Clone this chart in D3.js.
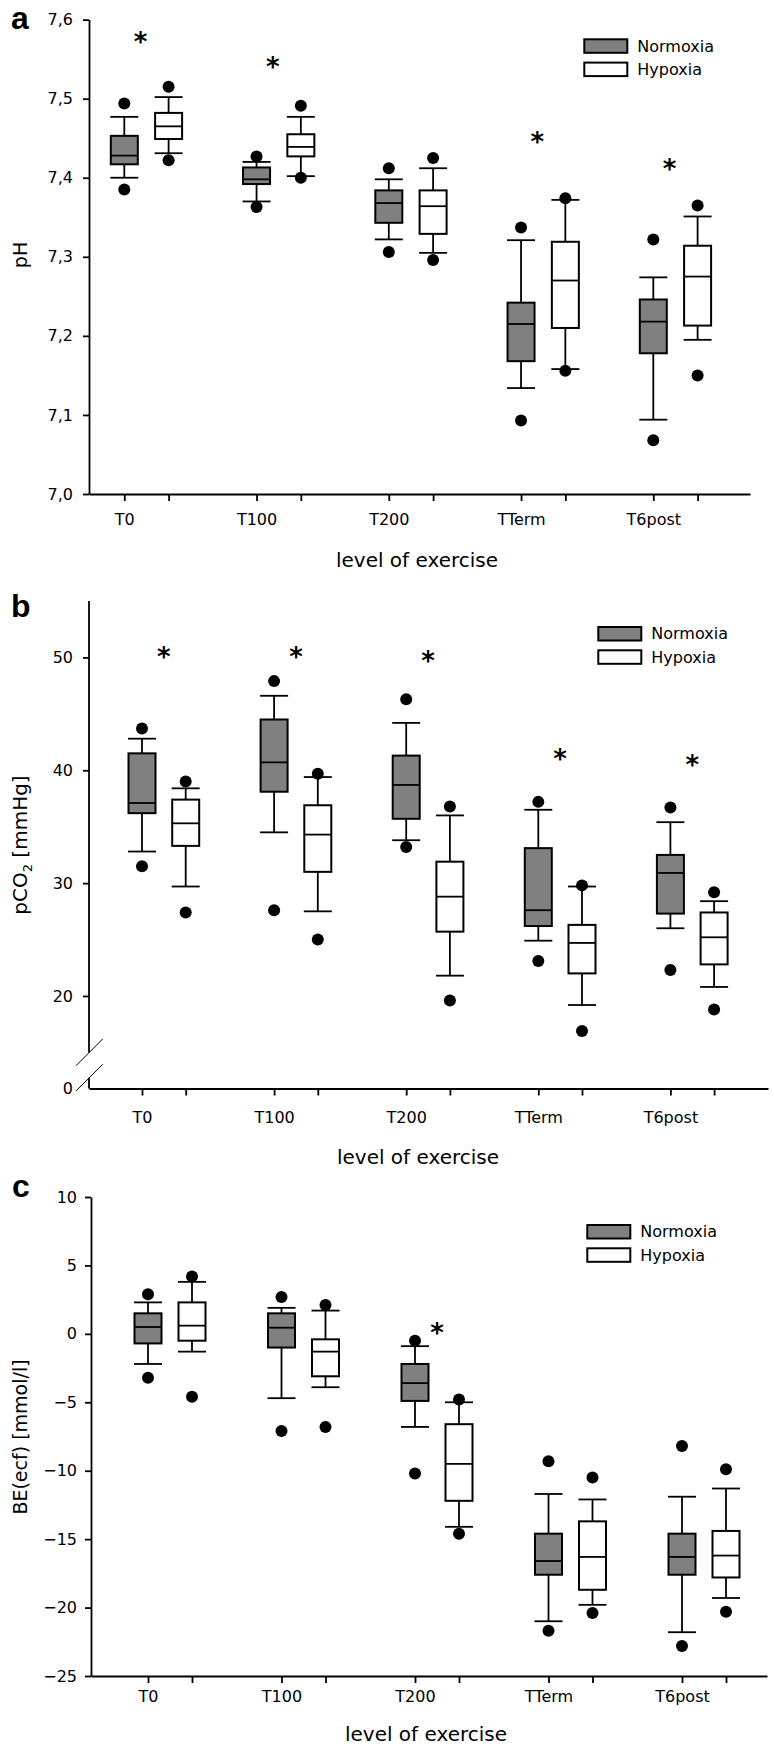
<!DOCTYPE html>
<html><head><meta charset="utf-8">
<script src="https://cdn.jsdelivr.net/npm/d3@7"></script>
<style>
html,body{margin:0;padding:0;background:#fff;}
svg text{font-family:"DejaVu Sans",sans-serif;fill:#000;}
</style></head><body>
<svg id="chart" width="774" height="1756"></svg>
<script>
const categories = ["T0","T100","T200","TTerm","T6post"];
const groups = ["Normoxia","Hypoxia"];
// each row: [outlierLow, whiskerLow, q1, median, q3, whiskerHigh, outlierHigh]
const phNormoxia = [
  [7.385, 7.400, 7.417, 7.428, 7.453, 7.477, 7.494],
  [7.363, 7.370, 7.392, 7.398, 7.413, 7.420, 7.427],
  [7.306, 7.322, 7.343, 7.368, 7.384, 7.398, 7.412],
  [7.093, 7.134, 7.168, 7.215, 7.242, 7.321, 7.337],
  [7.068, 7.094, 7.178, 7.218, 7.246, 7.274, 7.322]
];
const phHypoxia = [
  [7.422, 7.431, 7.449, 7.465, 7.482, 7.502, 7.515],
  [7.400, 7.402, 7.427, 7.439, 7.455, 7.477, 7.491],
  [7.296, 7.305, 7.329, 7.364, 7.384, 7.412, 7.425],
  [7.156, 7.158, 7.210, 7.270, 7.319, 7.372, 7.374],
  [7.150, 7.195, 7.213, 7.275, 7.314, 7.351, 7.365]
];
const phAsterisks = [7.577, 7.546, null, 7.451, 7.417];
const phTicks = [7.0, 7.1, 7.2, 7.3, 7.4, 7.5, 7.6];

const pco2Normoxia = [
  [31.5, 32.8, 36.2, 37.1, 41.5, 42.8, 43.7],
  [27.6, 34.5, 38.1, 40.7, 44.5, 46.6, 47.9],
  [33.2, 33.8, 35.7, 38.7, 41.3, 44.2, 46.3],
  [23.1, 24.9, 26.2, 27.6, 33.1, 36.5, 37.2],
  [22.3, 26.0, 27.3, 30.9, 32.5, 35.4, 36.7]
];
const pco2Hypoxia = [
  [27.4, 29.7, 33.3, 35.3, 37.4, 38.4, 39.0],
  [25.0, 27.5, 31.0, 34.3, 36.9, 39.4, 39.7],
  [19.6, 21.8, 25.7, 28.8, 31.9, 36.0, 36.8],
  [16.9, 19.2, 22.0, 24.7, 26.3, 29.7, 29.8],
  [18.8, 20.8, 22.8, 25.2, 27.4, 28.4, 29.2]
];
const pco2Asterisks = [50.4, 50.4, 50.1, 41.4, 40.9];
const pco2Ticks = [0, 20, 30, 40, 50];

const beNormoxia = [
  [-3.2, -2.2, -0.7, 0.5, 1.5, 2.3, 2.9],
  [-7.1, -4.7, -1.0, 0.45, 1.5, 1.9, 2.7],
  [-10.2, -6.8, -4.9, -3.6, -2.2, -0.9, -0.5],
  [-21.7, -21.0, -17.6, -16.6, -14.6, -11.7, -9.3],
  [-22.8, -21.8, -17.6, -16.3, -14.6, -11.9, -8.2]
];
const beHypoxia = [
  [-4.6, -1.3, -0.5, 0.6, 2.3, 3.8, 4.2],
  [-6.8, -3.9, -3.1, -1.3, -0.4, 1.7, 2.1],
  [-14.6, -14.1, -12.2, -9.5, -6.6, -5.0, -4.8],
  [-20.4, -19.8, -18.7, -16.3, -13.7, -12.1, -10.5],
  [-20.3, -19.3, -17.8, -16.2, -14.4, -11.3, -9.9]
];
const beAsterisks = [null, null, 0.4, null, null];
const beTicks = [10, 5, 0, -5, -10, -15, -20, -25];

const xTitle = "level of exercise";

const commaFmt = d3.formatLocale({decimal: ",", thousands: ".", grouping: [3], currency: ["", ""]}).format(".1f");

const svg = d3.select("#chart");
const fills = {Normoxia: "#808080", Hypoxia: "#ffffff"};

const panels = [
  {letter: "a", letterX: 11, letterY: 29,
   norm: phNormoxia, hyp: phHypoxia, ast: phAsterisks, astShift: -6,
   yDomain: [7.0, 7.6], yRange: [494, 19.6], ticks: phTicks, fmt: commaFmt,
   yAxisX: 89, x1: 750, c0: 124.3, step: 132.25, off: 44.3,
   tickPad: 12.6, yPad: 10, titleX: 417, titleY: 566.7,
   yTitle: ["pH"], yTitleSize: 19, yTitleY: 255,
   legX: 584.3, legY: 39.3},
  {letter: "b", letterX: 11, letterY: 617,
   norm: pco2Normoxia, hyp: pco2Hypoxia, ast: pco2Asterisks, astShift: 0,
   yDomain: [0, 15, 55], yRange: [1088.5, 1052.4, 601], ticks: pco2Ticks, fmt: d3.format("d"),
   breakAt: [4.5, 15],
   yAxisX: 89, x1: 768, c0: 142, step: 132.1, off: 43.7,
   tickPad: 16, yPad: 10, titleX: 418, titleY: 1164,
   yTitle: ["pCO", "2", " [mmHg]"], yTitleSize: 20, yTitleY: 845,
   legX: 598.3, legY: 627},
  {letter: "c", letterX: 12, letterY: 1197,
   norm: beNormoxia, hyp: beHypoxia, ast: beAsterisks, astShift: 0,
   yDomain: [-25, 10], yRange: [1676, 1197], ticks: beTicks, fmt: d3.format("d"),
   yAxisX: 91, x1: 767, c0: 148, step: 133.5, off: 44,
   tickPad: 7.6, yPad: 8, titleX: 426, titleY: 1741,
   yTitle: ["BE(ecf) [mmol/l]"], yTitleSize: 19, yTitleY: 1437,
   legX: 587.3, legY: 1225}
];

function drawPanel(p) {
  const g = svg.append("g");
  const x = d3.scaleLinear()
    .domain([(p.yAxisX - p.c0) / p.step, (p.x1 - p.c0) / p.step])
    .range([p.yAxisX, p.x1]);
  const y = d3.scaleLinear().domain(p.yDomain).range(p.yRange);
  const hypShift = p.off / p.step;
  const boxW = 27, capW = 28;

  const series = [
    {key: groups[0], data: p.norm, shift: 0},
    {key: groups[1], data: p.hyp, shift: hypShift}
  ];

  series.forEach(s => {
    const sg = g.append("g");
    const items = sg.selectAll("g.box").data(s.data).join("g").attr("class", "box");
    items.each(function(d, i) {
      const el = d3.select(this);
      const cx = x(i + s.shift);
      el.append("line").attr("x1", cx).attr("x2", cx).attr("y1", y(d[1])).attr("y2", y(d[2]))
        .attr("stroke", "#000").attr("stroke-width", 1.8);
      el.append("line").attr("x1", cx).attr("x2", cx).attr("y1", y(d[4])).attr("y2", y(d[5]))
        .attr("stroke", "#000").attr("stroke-width", 1.8);
      [d[1], d[5]].forEach(v => {
        el.append("line").attr("x1", cx - capW / 2).attr("x2", cx + capW / 2)
          .attr("y1", y(v)).attr("y2", y(v)).attr("stroke", "#000").attr("stroke-width", 1.8);
      });
      el.append("rect").attr("x", cx - boxW / 2).attr("width", boxW)
        .attr("y", y(d[4])).attr("height", y(d[2]) - y(d[4]))
        .attr("fill", fills[s.key]).attr("stroke", "#000").attr("stroke-width", 2);
      el.append("line").attr("x1", cx - boxW / 2).attr("x2", cx + boxW / 2)
        .attr("y1", y(d[3])).attr("y2", y(d[3])).attr("stroke", "#000").attr("stroke-width", 1.8);
      [d[0], d[6]].forEach(v => {
        el.append("circle").attr("cx", cx).attr("cy", y(v)).attr("r", 6).attr("fill", "#000");
      });
    });
  });

  // asterisks
  g.selectAll("text.ast").data(p.ast.map((v, i) => ({v, i})).filter(d => d.v !== null))
    .join("text").attr("class", "ast")
    .attr("x", d => x(d.i + hypShift / 2) + p.astShift)
    .attr("y", d => y(d.v) + 13.5)
    .attr("text-anchor", "middle")
    .style("font-size", "26px").style("font-weight", "bold")
    .text("*");

  // x axis
  const xTicks = [];
  categories.forEach((c, i) => { xTicks.push(i); xTicks.push(i + hypShift); });
  const xAxis = d3.axisBottom(x).tickValues(xTicks)
    .tickFormat(d => Number.isInteger(d) ? categories[d] : "")
    .tickSize(7).tickSizeOuter(0).tickPadding(p.tickPad);
  const axY = p.yRange[0];
  const xg = g.append("g").attr("transform", `translate(0,${axY})`).call(xAxis);
  xg.selectAll("path,line").attr("stroke", "#000").attr("stroke-width", 1.8);
  xg.selectAll("text").style("font-size", "16px").style("font-family", "DejaVu Sans").attr("fill", "#000");

  // y axis
  const yAxis = d3.axisLeft(y).tickValues(p.ticks).tickFormat(p.fmt)
    .tickSize(6).tickSizeOuter(0).tickPadding(p.yPad);
  const yg = g.append("g").attr("transform", `translate(${p.yAxisX},0)`).call(yAxis);
  yg.selectAll("path,line").attr("stroke", "#000").attr("stroke-width", 1.8);
  yg.selectAll("text").style("font-size", "16px").style("font-family", "DejaVu Sans").attr("fill", "#000");

  if (p.breakAt) {
    yg.select("path.domain").remove();
    yg.selectAll(".tick").filter(d => d === 0).select("line").remove();
    const top = p.yDomain[p.yDomain.length - 1];
    yg.append("line").attr("x1", 0).attr("x2", 0).attr("y1", y(top)).attr("y2", y(p.breakAt[1]))
      .attr("stroke", "#000").attr("stroke-width", 1.8);
    yg.append("line").attr("x1", 0).attr("x2", 0).attr("y1", y(p.breakAt[0])).attr("y2", y(0))
      .attr("stroke", "#000").attr("stroke-width", 1.8);
    p.breakAt.forEach(v => {
      yg.append("line").attr("x1", -13).attr("x2", 13.7)
        .attr("y1", y(v) + 13.3).attr("y2", y(v) - 13.4)
        .attr("stroke", "#000").attr("stroke-width", 1);
    });
  }

  // x title
  g.append("text").attr("x", p.titleX).attr("y", p.titleY).attr("text-anchor", "middle")
    .style("font-size", "20px").text(xTitle);

  // y title
  const yt = g.append("text").attr("transform", `translate(20,${p.yTitleY}) rotate(-90)`)
    .attr("text-anchor", "middle").attr("dominant-baseline", "central")
    .style("font-size", p.yTitleSize + "px");
  if (p.yTitle.length === 3) {
    yt.append("tspan").text(p.yTitle[0]);
    yt.append("tspan").attr("baseline-shift", "sub").style("font-size", "13px").text(p.yTitle[1]);
    yt.append("tspan").text(p.yTitle[2]);
  } else {
    yt.text(p.yTitle[0]);
  }

  // legend
  const lg = g.append("g").attr("transform", `translate(${p.legX},${p.legY})`);
  groups.forEach((k, i) => {
    lg.append("rect").attr("x", 0).attr("y", i * 23.3).attr("width", 43).attr("height", 13.5)
      .attr("fill", fills[k]).attr("stroke", "#000").attr("stroke-width", 2);
    lg.append("text").attr("x", 53).attr("y", i * 23.3 + 6.8).attr("dominant-baseline", "central")
      .style("font-size", "16px").text(k);
  });

  // panel letter
  g.append("text").attr("x", p.letterX).attr("y", p.letterY)
    .style("font-family", "Liberation Sans, Arial, sans-serif")
    .style("font-weight", "bold").style("font-size", "32px").text(p.letter);
}

panels.forEach(drawPanel);
</script>
</body></html>
